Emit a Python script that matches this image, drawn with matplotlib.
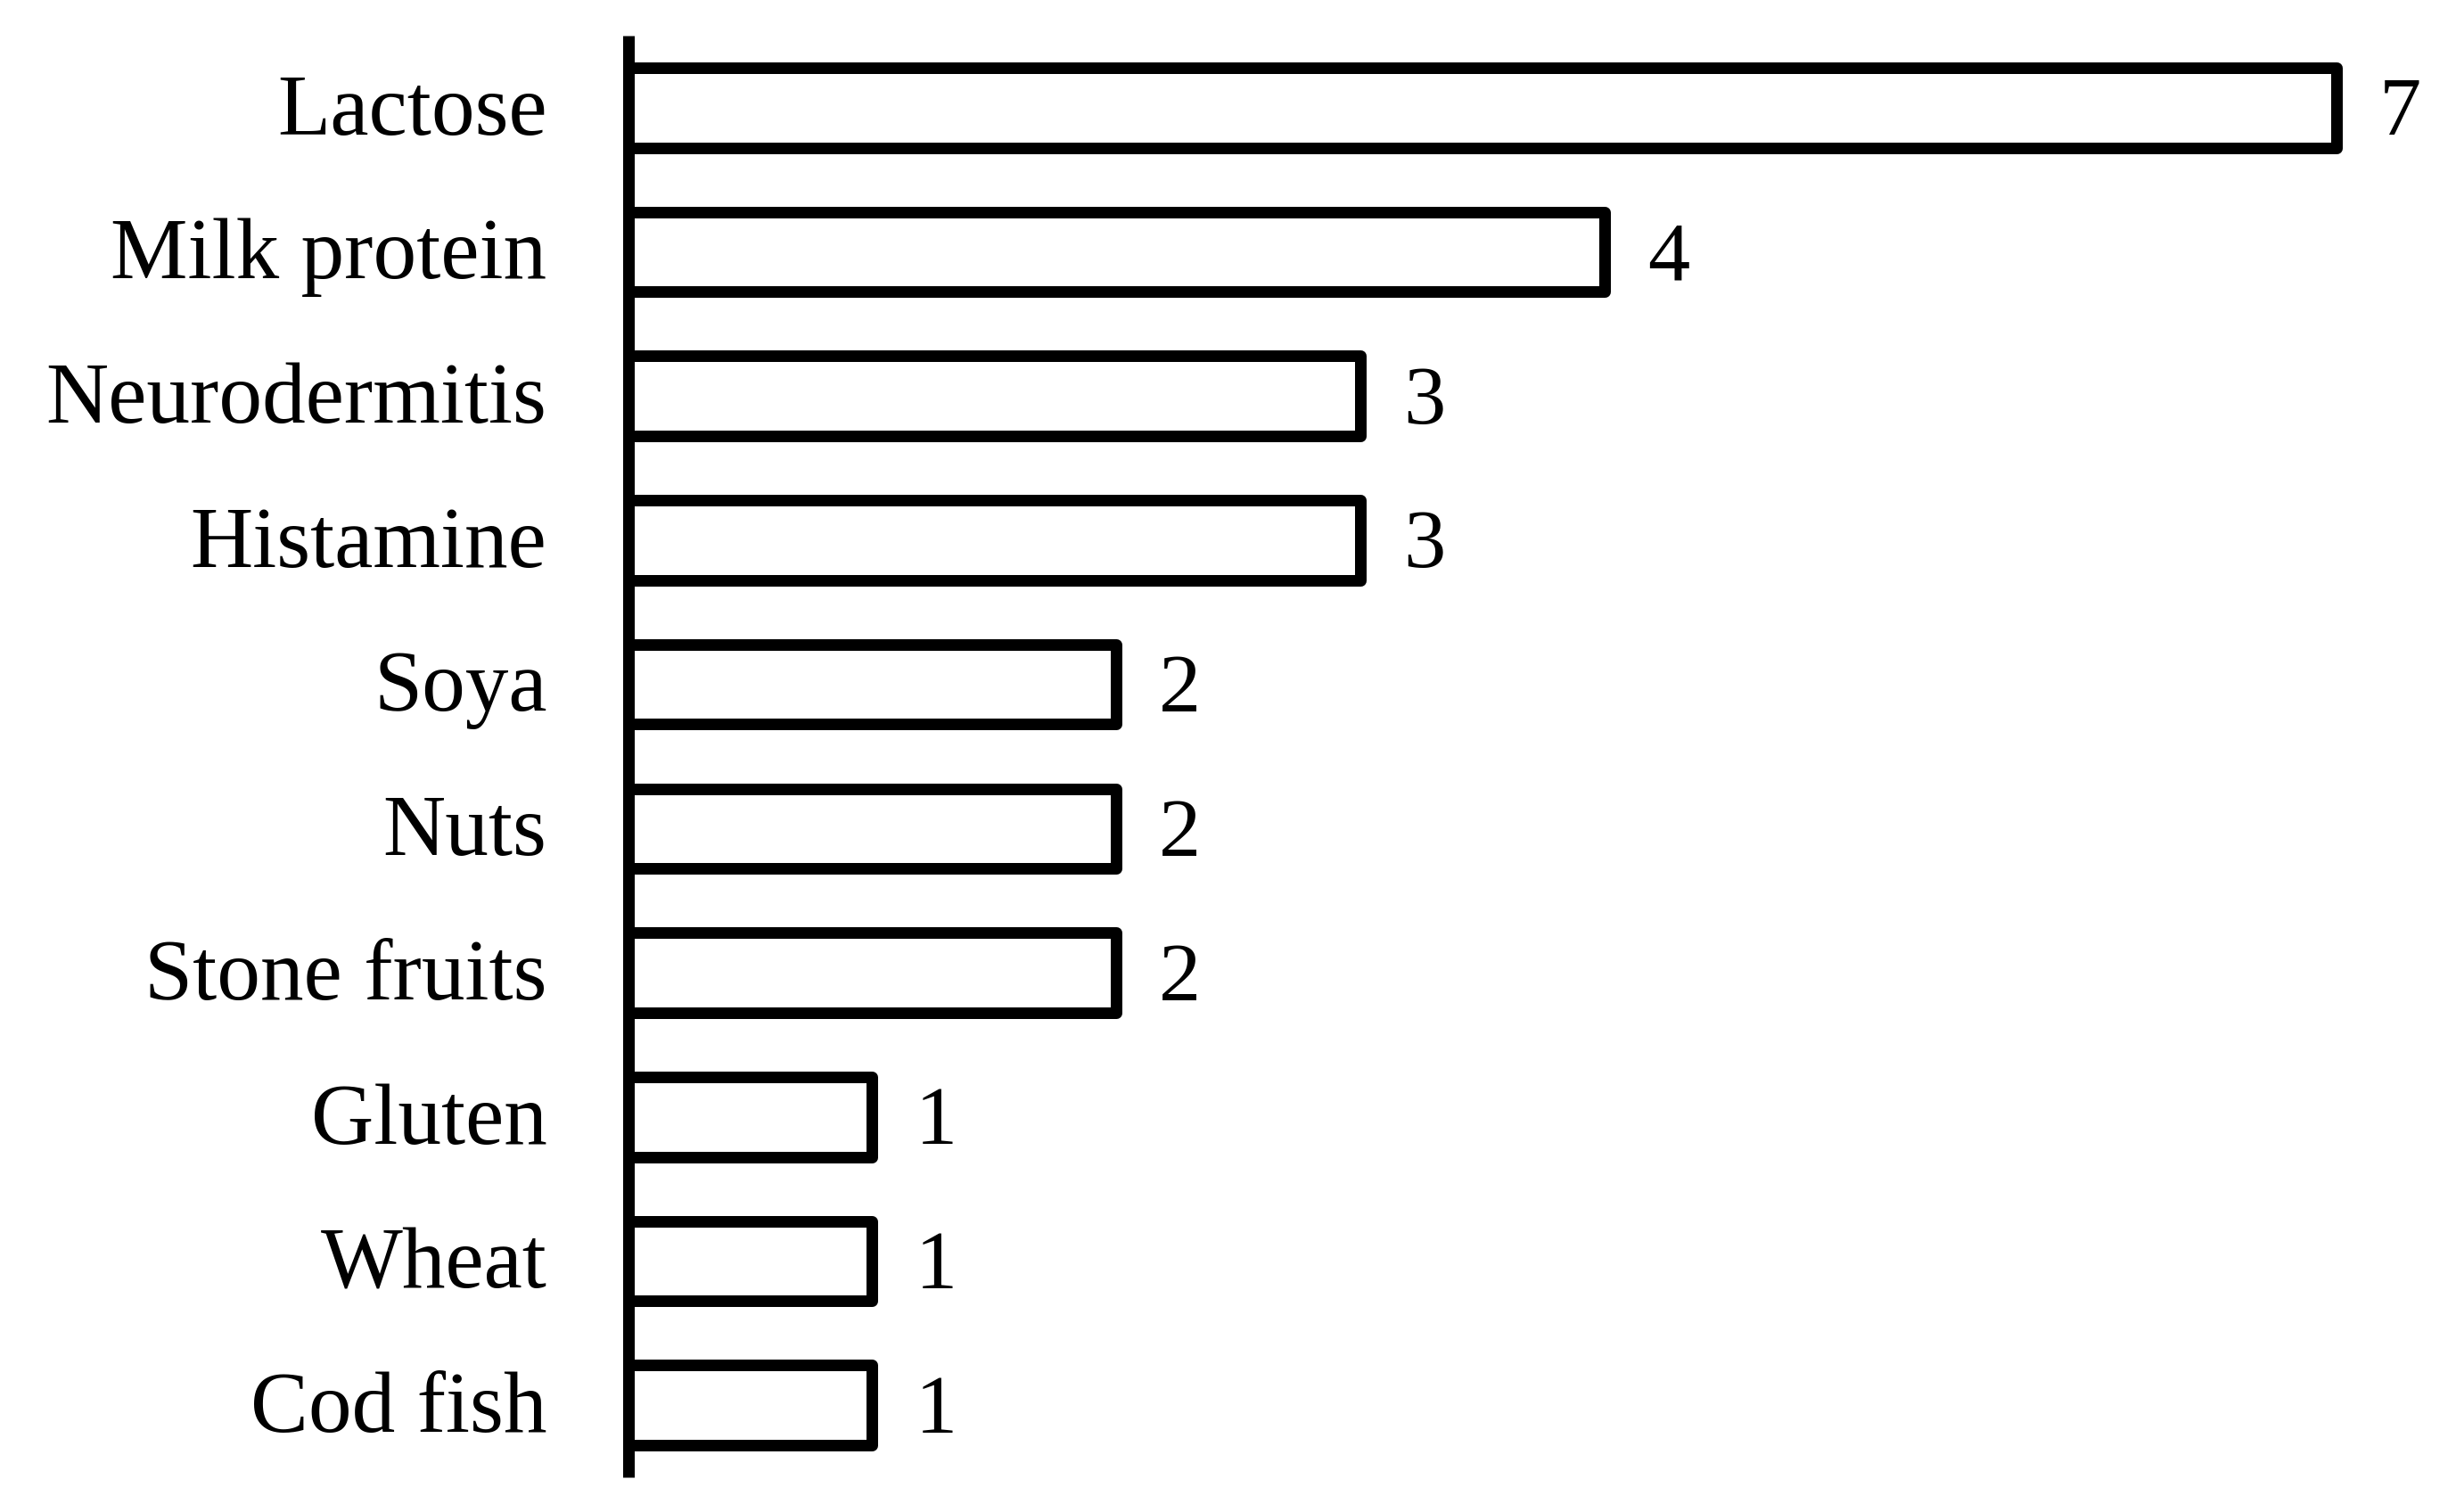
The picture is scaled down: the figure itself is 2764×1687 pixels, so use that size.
import matplotlib
matplotlib.use("Agg")
import matplotlib.pyplot as plt
import matplotlib.transforms as mtransforms

categories = ["Lactose", "Milk protein", "Neurodermitis", "Histamine", "Soya",
              "Nuts", "Stone fruits", "Gluten", "Wheat", "Cod fish"]
values = [7, 4, 3, 3, 2, 2, 2, 1, 1, 1]

W, H, DPI = 2764, 1687, 100
fig = plt.figure(figsize=(W / DPI, H / DPI), dpi=DPI)
plt.rcParams['font.family'] = ['Liberation Serif', 'DejaVu Serif']

ax_left = 704.5 / W
ax_bottom = (H - 1657) / H
ax_top = (H - 40) / H
ax = fig.add_axes([ax_left, ax_bottom, 1 - ax_left, ax_top - ax_bottom])

lw = 13 * 72 / DPI
ypos = list(range(len(categories)))
bars = ax.barh(ypos, values, height=0.554, color="white", edgecolor="black",
               linewidth=lw, joinstyle="round")

ax.set_ylim(len(categories) - 0.5, -0.5)
ax.set_xlim(0, (W - 704.5) / 273.8)

for y, v in zip(ypos, values):
    ax.annotate(str(v), xy=(v, y), xytext=(48 * 72 / DPI, -8 * 72 / DPI),
                textcoords="offset points",
                ha="left", va="center", fontsize=68)

ax.set_yticks(ypos)
ax.set_yticklabels(categories, fontsize=70)
ax.tick_params(axis="y", length=0, pad=91 * 72 / DPI)
shift = mtransforms.ScaledTranslation(0, 4 / DPI, fig.dpi_scale_trans)
for lab in ax.get_yticklabels():
    lab.set_transform(lab.get_transform() + shift)
ax.set_xticks([])
for s in ["top", "right", "bottom"]:
    ax.spines[s].set_visible(False)
ax.spines["left"].set_linewidth(lw)
ax.spines["left"].set_capstyle("butt")

fig.savefig("out.png", dpi=DPI, facecolor="white")
